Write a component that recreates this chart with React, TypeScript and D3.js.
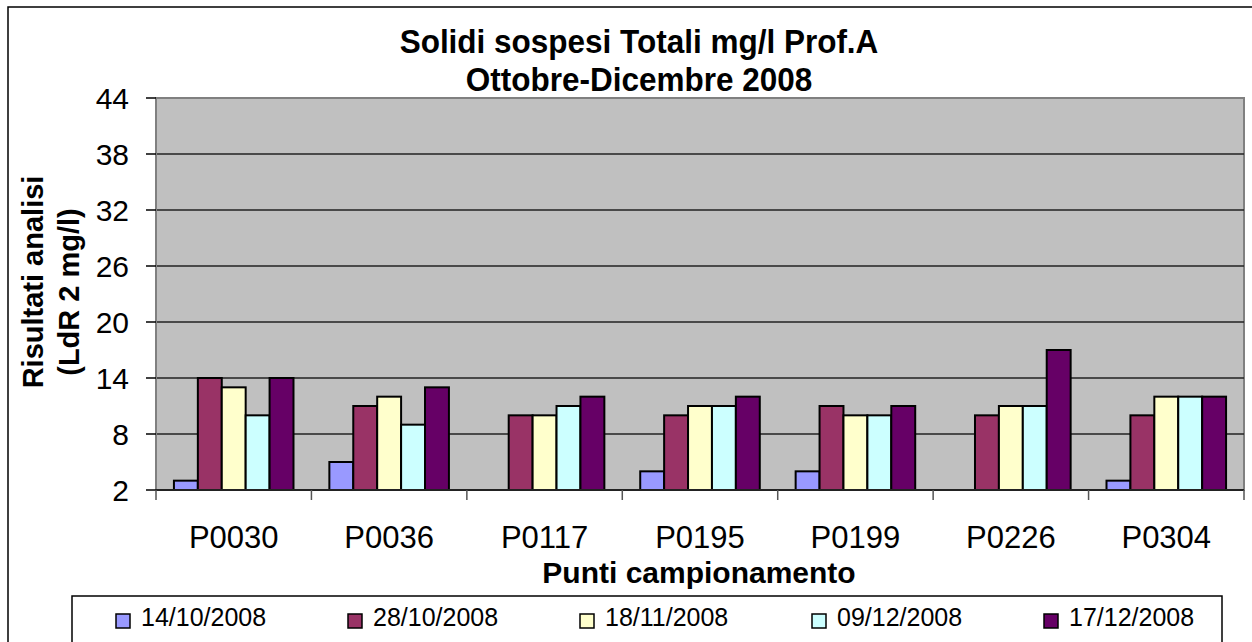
import * as d3 from "d3";

const categories = ["P0030", "P0036", "P0117", "P0195", "P0199", "P0226", "P0304"];
const seriesNames = ["14/10/2008", "28/10/2008", "18/11/2008", "09/12/2008", "17/12/2008"];
const seriesColors = ["#9999FF", "#993366", "#FFFFCC", "#CCFFFF", "#660066"];

// one array per sampling date, same order as categories (null = no value)
const s14Oct = [3, 5, null, 4, 4, null, 3];
const s28Oct = [14, 11, 10, 10, 11, 10, 10];
const s18Nov = [13, 12, 10, 11, 10, 11, 12];
const s09Dec = [10, 9, 11, 11, 10, 11, 12];
const s17Dec = [14, 13, 12, 12, 11, 17, 12];
const seriesValues = [s14Oct, s28Oct, s18Nov, s09Dec, s17Dec];

const yTicks = [2, 8, 14, 20, 26, 32, 38, 44];

export default function App() {
  const W = 1252;
  const H = 642;
  const left = 156;
  const right = 1244;
  const top = 98;
  const bottom = 490;

  const x0 = d3.scaleBand<string>().domain(categories).range([left, right]).padding(0);
  const x1 = d3
    .scaleBand<string>()
    .domain(seriesNames)
    .range([0, x0.bandwidth()])
    .paddingInner(0)
    .paddingOuter(0.75);
  const y = d3.scaleLinear().domain([2, 44]).range([bottom, top]);

  const font = "Arial, 'Liberation Sans', sans-serif";

  return (
    <svg
      width={W}
      height={H}
      style={{ position: "absolute", left: 0, top: 0, background: "#fff" }}
    >
      {/* chart border */}
      <rect x={8} y={7} width={1280} height={660} fill="#fff" stroke="#000" strokeWidth={1.5} />

      {/* title */}
      <text
        transform="translate(639,53) scale(1,1.08)"
        textAnchor="middle"
        fontFamily={font}
        fontWeight="bold"
        fontSize={31.5}
      >
        Solidi sospesi Totali mg/l Prof.A
      </text>
      <text
        transform="translate(639,91) scale(1,1.08)"
        textAnchor="middle"
        fontFamily={font}
        fontWeight="bold"
        fontSize={31.5}
      >
        Ottobre-Dicembre 2008
      </text>

      {/* plot area */}
      <rect x={left} y={top} width={right - left} height={bottom - top} fill="#C0C0C0" stroke="#808080" strokeWidth={2} />

      {/* gridlines */}
      {yTicks.slice(1, -1).map((t) => (
        <line key={"g" + t} x1={left} x2={right} y1={y(t)} y2={y(t)} stroke="#222" strokeWidth={1.5} />
      ))}

      {/* bars */}
      {categories.map((c, ci) => (
        <g key={c} transform={`translate(${x0(c)},0)`}>
          {seriesNames.map((s, si) => {
            const v = seriesValues[si][ci];
            if (v == null) return null;
            return (
              <rect
                key={s}
                x={x1(s)}
                y={y(v)}
                width={x1.bandwidth()}
                height={y(2) - y(v)}
                fill={seriesColors[si]}
                stroke="#000"
                strokeWidth={2}
              />
            );
          })}
        </g>
      ))}

      {/* y axis */}
      <line x1={left} x2={left} y1={top} y2={bottom} stroke="#808080" strokeWidth={2} />
      {yTicks.map((t) => (
        <g key={"y" + t}>
          <line x1={left - 10} x2={left} y1={y(t)} y2={y(t)} stroke="#000" strokeWidth={1.5} />
          <text x={129} y={y(t) + 11} textAnchor="end" fontFamily={font} fontSize={30}>
            {t}
          </text>
        </g>
      ))}

      {/* x axis */}
      <line x1={left} x2={right} y1={bottom} y2={bottom} stroke="#222" strokeWidth={2} />
      {[...categories.map((c) => x0(c) as number), right].map((xv, i) => (
        <line key={"xt" + i} x1={xv} x2={xv} y1={bottom} y2={bottom + 10} stroke="#555" strokeWidth={1.5} />
      ))}
      {categories.map((c) => (
        <text
          key={"xl" + c}
          x={(x0(c) as number) + x0.bandwidth() / 2}
          y={548}
          textAnchor="middle"
          fontFamily={font}
          fontSize={31}
        >
          {c}
        </text>
      ))}

      {/* axis titles */}
      <text x={699} y={583} textAnchor="middle" fontFamily={font} fontWeight="bold" fontSize={30}>
        Punti campionamento
      </text>
      <text
        transform="translate(43,282) rotate(-90)"
        textAnchor="middle"
        fontFamily={font}
        fontWeight="bold"
        fontSize={29}
      >
        Risultati analisi
      </text>
      <text
        transform="translate(79,292) rotate(-90)"
        textAnchor="middle"
        fontFamily={font}
        fontWeight="bold"
        fontSize={29}
      >
        (LdR 2 mg/l)
      </text>

      {/* legend */}
      <rect x={72} y={596} width={1150} height={70} fill="#fff" stroke="#000" strokeWidth={1.5} />
      {seriesNames.map((s, i) => (
        <g key={"lg" + s} transform={`translate(${115 + i * 232},0)`}>
          <rect x={1} y={614} width={14} height={14} fill={seriesColors[i]} stroke="#000" strokeWidth={1.5} />
          <text x={26} y={626} fontFamily={font} fontSize={25}>
            {s}
          </text>
        </g>
      ))}
    </svg>
  );
}
